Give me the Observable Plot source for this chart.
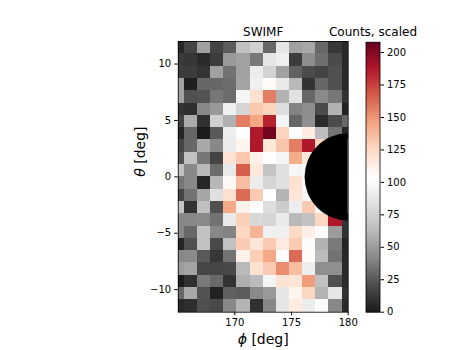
<!DOCTYPE html>
<html>
<head>
<meta charset="utf-8">
<script src="https://cdn.jsdelivr.net/npm/d3@7"></script>
<script src="https://cdn.jsdelivr.net/npm/@observablehq/plot@0.6"></script>
<style>
  html, body { margin: 0; padding: 0; background: white; }
  #wrap { position: relative; width: 467px; height: 350px; }
  #wrap svg { position: absolute; left: 0; top: 0; }
</style>
</head>
<body>
<div id="wrap"></div>
<script>
// ---- data ----
const phiEdges = [165, 165.54, 166.70, 167.86, 169.02, 170.18, 171.34, 172.50, 173.66, 174.82, 175.98, 177.14, 178.30, 179.46, 180];
const thetaEdges = [12, 10.909, 9.818, 8.727, 7.636, 6.545, 5.455, 4.364, 3.273, 2.182, 1.091, 0,
  -1.091, -2.182, -3.273, -4.364, -5.455, -6.545, -7.636, -8.727, -9.818, -10.909, -12];
// counts (scaled), one row per theta bin from top to bottom, one column per phi bin
const counts = [
  [5,17,52,17,26,66,75,30,87,52,55,30,12,6],
  [13,12,7,14,49,52,36,87,93,14,44,33,20,6],
  [14,14,10,52,34,52,91,76,52,28,20,17,22,6],
  [52,2,30,30,32,53,94,106,89,62,10,30,22,6],
  [52,22,23,36,32,97,122,157,59,84,30,43,36,10],
  [10,8,42,49,93,77,132,128,82,40,44,20,59,3],
  [16,56,9,74,58,158,145,185,97,30,45,7,20,30],
  [5,30,1,25,92,103,188,205,127,105,115,64,35,5],
  [17,30,55,42,91,110,188,118,133,158,188,128,100,100],
  [22,66,36,17,120,132,112,104,97,143,118,110,100,100],
  [66,42,62,32,89,167,117,68,83,97,100,100,100,100],
  [36,42,5,61,108,136,92,77,83,121,100,100,100,100],
  [17,34,54,83,122,163,131,104,60,119,97,100,100,100],
  [67,10,65,22,144,111,104,82,72,92,131,100,100,100],
  [42,42,43,34,90,129,78,77,90,62,67,126,188,10],
  [42,30,67,42,40,126,140,94,94,125,113,101,50,10],
  [5,22,66,19,66,131,118,131,116,131,101,59,37,5],
  [42,43,25,12,34,112,130,144,106,163,106,63,34,6],
  [50,53,18,18,19,62,121,131,153,136,92,45,45,6],
  [1,9,37,31,10,58,63,97,120,119,148,66,22,6],
  [30,55,23,3,28,26,43,49,87,110,126,60,87,10],
  [6,8,22,19,42,60,9,42,87,115,92,101,42,6]
];
const xTicks = [170, 175, 180];
const yTicks = [-10, -5, 0, 5, 10];
const colorTicks = [0, 25, 50, 75, 100, 125, 150, 175, 200];
const colorMax = 208;
// RdGy_r colormap stops
const cmapColors = ["#1a1a1a","#4d4d4d","#878787","#bababa","#e0e0e0","#ffffff","#fddbc7","#f4a582","#d6604d","#b2182b","#67001f"];
const sun = {phi: 180, theta: 0, radiusDeg: 3.85};
const title = "SWIMF";
const colorLabel = "Counts, scaled";
const xLabel = "ϕ [deg]";
const yLabel = "θ [deg]";

// ---- layout ----
const W = 467, H = 350;
const mL = 177.7, mR = W - 347.7, mT = 41, mB = H - 311.7;
const xDomain = [165, 180], yDomain = [-12, 12];
const pxPerDeg = (W - mL - mR) / (xDomain[1] - xDomain[0]);

const cells = counts.flatMap((row, r) => row.map((v, c) => ({
  x1: phiEdges[c], x2: phiEdges[c + 1], y1: thetaEdges[r + 1], y2: thetaEdges[r], value: v
})));

const colorScale = {
  type: "linear",
  domain: cmapColors.map((_, i) => i * colorMax / (cmapColors.length - 1)),
  range: cmapColors,
  interpolate: "rgb",
  clamp: true
};
const font = {fontFamily: "'DejaVu Sans', sans-serif", fontSize: "10px", color: "black", background: "transparent", overflow: "visible"};
const fmt = d3.format("d");

const main = Plot.plot({
  width: W, height: H,
  marginLeft: mL, marginRight: mR, marginTop: mT, marginBottom: mB,
  x: {domain: xDomain},
  y: {domain: yDomain},
  color: colorScale,
  style: font,
  marks: [
    Plot.rect(cells, {x1: "x1", x2: "x2", y1: "y1", y2: "y2", fill: "value", shapeRendering: "crispEdges"}),
    Plot.dot([sun], {x: "phi", y: "theta", r: sun.radiusDeg * pxPerDeg, fill: "black", stroke: null, clip: true}),
    Plot.frame({stroke: "black", strokeWidth: 0.8}),
    Plot.axisX(xTicks, {tickSize: 3.5, tickPadding: 3.5, label: null, tickFormat: fmt, fontSize: 10}),
    Plot.axisY(yTicks, {tickSize: 3.5, tickPadding: 3.5, label: null, tickFormat: fmt, fontSize: 10}),
    Plot.text([title], {text: d => d, frameAnchor: "top", lineAnchor: "middle", dy: -9.5, fontSize: 12}),
    Plot.text([xLabel], {text: d => d, frameAnchor: "bottom", lineAnchor: "middle", dy: 27, fontSize: 14}),
    Plot.text([yLabel], {text: d => d, frameAnchor: "left", lineAnchor: "middle", dx: -38, rotate: -90, fontSize: 14})
  ]
});

const cbar = Plot.plot({
  width: W, height: H,
  marginLeft: 365.5, marginRight: W - 379.5, marginTop: 41.7, marginBottom: H - 311.7,
  x: {domain: [0, 1], axis: null},
  y: {domain: [0, colorMax], axis: null},
  color: colorScale,
  style: font,
  marks: [
    Plot.raster({x1: 0, x2: 1, y1: 0, y2: colorMax, width: 1, height: 270, fill: (x, y) => y}),
    Plot.frame({stroke: "black", strokeWidth: 0.8}),
    Plot.axisY(colorTicks, {anchor: "right", tickSize: 3.5, tickPadding: 3.5, label: null, tickFormat: fmt, fontSize: 10}),
    Plot.text([colorLabel], {text: d => d, frameAnchor: "top", lineAnchor: "middle", dy: -10.2, fontSize: 12})
  ]
});

const wrap = document.getElementById("wrap");
wrap.appendChild(main);
wrap.appendChild(cbar);

// italic greek letters like matplotlib mathtext
main.querySelectorAll("text").forEach(t => {
  if (t.textContent === xLabel) t.innerHTML = '<tspan font-style="italic">ϕ</tspan> [deg]';
  if (t.textContent === yLabel) t.innerHTML = '<tspan font-style="italic">θ</tspan> [deg]';
});
</script>
</body>
</html>
